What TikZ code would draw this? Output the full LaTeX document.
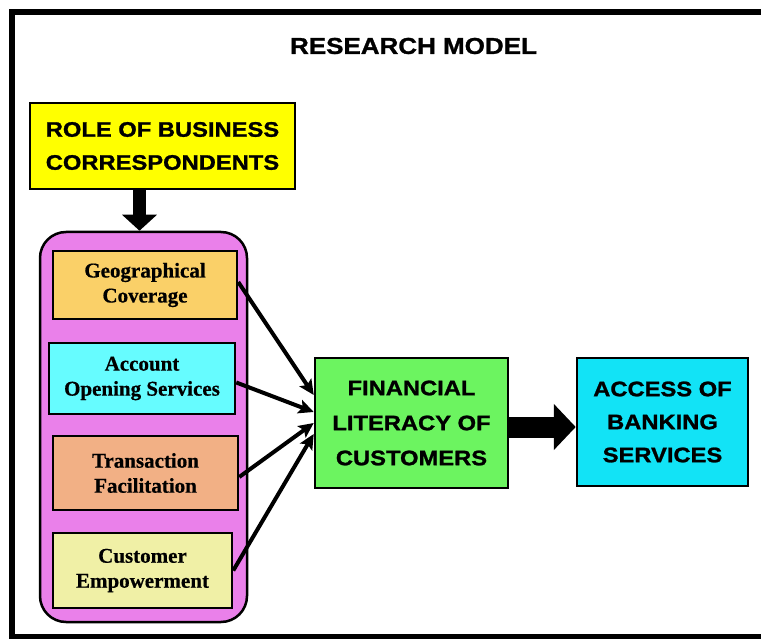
\documentclass[tikz,border=0pt]{standalone}
\usepackage{fontspec}
\setmainfont{Liberation Serif}[BoldFeatures={FakeBold=0.6}]
\newfontfamily\headfont[FakeStretch=1.13, BoldFeatures={FakeBold=1.2}]{Liberation Sans}
\usetikzlibrary{arrows.meta}

\definecolor{roleyellow}{HTML}{FFFF00}
\definecolor{groupviolet}{HTML}{EA80EA}
\definecolor{geofill}{HTML}{FAD068}
\definecolor{acctfill}{HTML}{66FCFF}
\definecolor{transfill}{HTML}{F2B085}
\definecolor{custfill}{HTML}{F0F0A6}
\definecolor{litgreen}{HTML}{6CF460}
\definecolor{accesscyan}{HTML}{12E3F6}

\tikzset{
  box/.style={draw, line width=2.5pt, inner sep=0pt, align=center},
  capstext/.style={font=\headfont\bfseries\fontsize{21}{33}\selectfont},
  factortext/.style={font=\bfseries\fontsize{21}{25}\selectfont},
  link/.style={line width=4pt, -{Stealth[length=15pt,width=14pt,inset=3pt]}},
}

\begin{document}
\begin{tikzpicture}[x=1pt, y=-1pt]
  \useasboundingbox (0,0) rectangle (761,639);

  % outer frame, open on the right
  \draw[line width=6pt] (761,12) -- (12,12) -- (12,637) -- (761,637);

  % title
  \node[font=\headfont\bfseries\fontsize{23}{27}\selectfont] (title) at (413.5,46) {RESEARCH MODEL};

  % driver
  \node[box, capstext, fill=roleyellow, minimum width=265pt, minimum height=86pt]
    (role) at (162.5,146) {ROLE OF BUSINESS\\CORRESPONDENTS};

  % group of factors
  \node[box, fill=groupviolet, rounded corners=26pt, minimum width=207pt, minimum height=390pt]
    (group) at (143.5,427) {};
  \node[box, factortext, fill=geofill, minimum width=184pt, minimum height=68pt]
    (geo) at (145,285) {Geographical\\Coverage};
  \node[box, factortext, fill=acctfill, minimum width=186pt, minimum height=71pt]
    (acct) at (142,378.5) {Account\\Opening Services};
  \node[box, factortext, fill=transfill, minimum width=185pt, minimum height=74pt]
    (trans) at (145.5,473) {Transaction\\Facilitation};
  \node[box, factortext, fill=custfill, minimum width=179pt, minimum height=75pt]
    (cust) at (142.5,570.5) {Customer\\Empowerment};

  % mediator and outcome
  \node[box, font=\headfont\bfseries\fontsize{21}{35}\selectfont, fill=litgreen,
        minimum width=193pt, minimum height=130pt]
    (lit) at (411.5,423) {FINANCIAL\\LITERACY OF\\CUSTOMERS};
  \node[box, capstext, fill=accesscyan, minimum width=171pt, minimum height=128pt]
    (access) at (662.5,422) {ACCESS OF\\BANKING\\SERVICES};

  % block arrows
  \draw[line width=13pt, -{Triangle[length=16pt,width=34pt]}]
    ([xshift=-4pt]role.south -| group.north) -- ([xshift=-4pt]group.north);
  \draw[line width=21pt, -{Triangle[length=22pt,width=45pt]}]
    ([yshift=-4pt]lit.east) -- ([yshift=-4pt]lit.east -| access.west);

  % factor links
  \draw[link] ([yshift=3pt]geo.east) -- ([yshift=28pt]lit.west);
  \draw[link] ([yshift=-4pt]acct.east) -- ([yshift=11pt]lit.west);
  \draw[link] ([yshift=-4pt]trans.east) -- (lit.west);
  \draw[link] (cust.east) -- ([yshift=-11pt]lit.west);
\end{tikzpicture}
\end{document}
